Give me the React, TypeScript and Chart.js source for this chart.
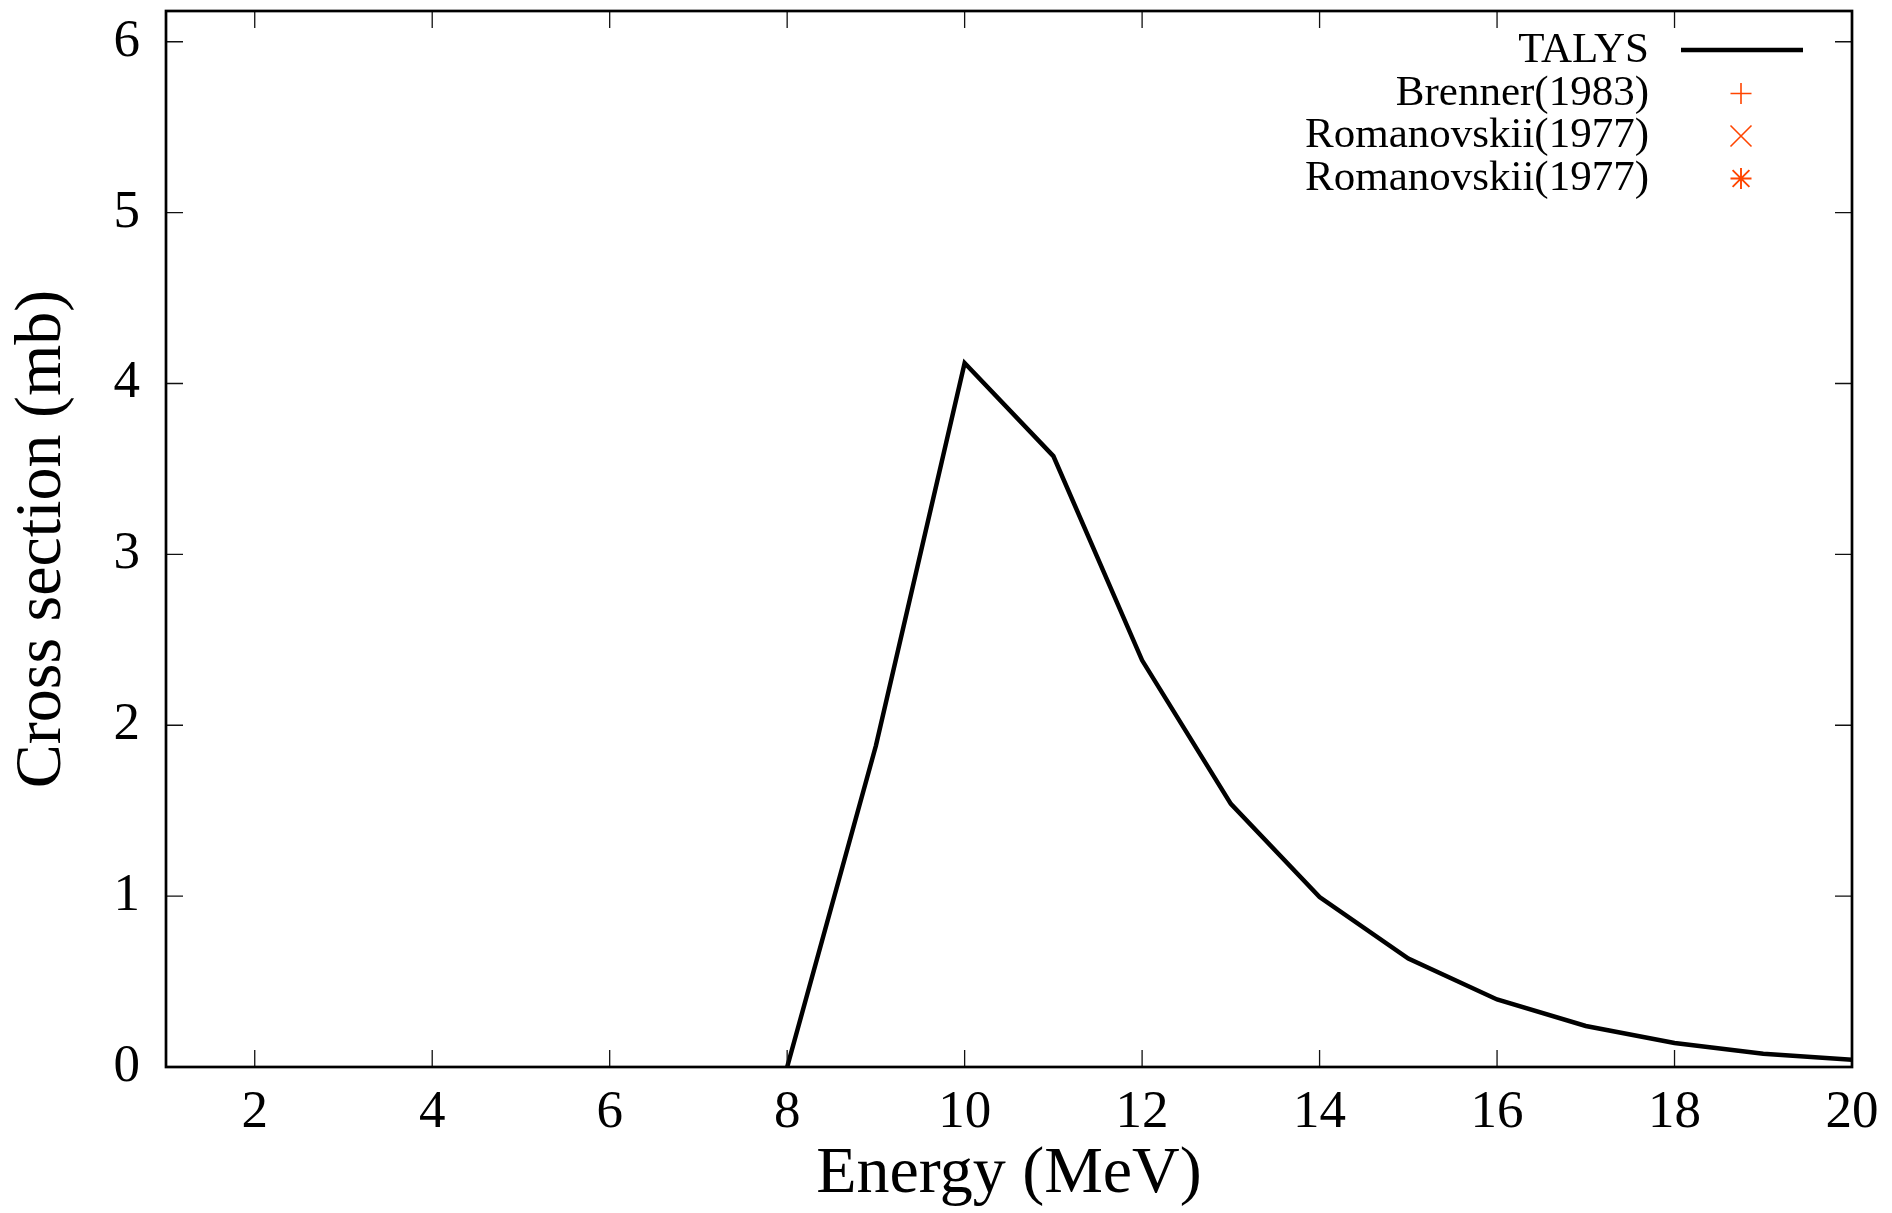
import React, { useEffect, useRef } from 'react';
import { Chart, registerables } from 'chart.js';

Chart.register(...registerables);

// ---- data ----
const energies = [8, 9, 10, 11, 12, 13, 14, 15, 16, 17, 18, 19, 20];
const talys = [0, 1.88, 4.12, 3.575, 2.38, 1.54, 0.995, 0.635, 0.395, 0.24, 0.14, 0.078, 0.042];
const brennerEnergies: number[] = [];
const brennerValues: number[] = [];
const romanovskiiAEnergies: number[] = [];
const romanovskiiAValues: number[] = [];
const romanovskiiBEnergies: number[] = [];
const romanovskiiBValues: number[] = [];

const xTicks = [2, 4, 6, 8, 10, 12, 14, 16, 18, 20];
const yTicks = [0, 1, 2, 3, 4, 5, 6];
const xRange = [1, 20];
const yRange = [0, 6.18];

const seriesLabels = ['TALYS', 'Brenner(1983)', 'Romanovskii(1977)', 'Romanovskii(1977)'];
const xTitle = 'Energy (MeV)';
const yTitle = 'Cross section (mb)';

const FONT = "'Liberation Serif', 'Times New Roman', serif";
const EXP_COLOR = '#ff4500';

const toPoints = (xs: number[], ys: number[]) => xs.map((x, i) => ({ x, y: ys[i] }));

function drawMarker(ctx: CanvasRenderingContext2D, style: string, x: number, y: number, r: number) {
  ctx.beginPath();
  if (style === 'cross' || style === 'star') {
    ctx.moveTo(x - r, y);
    ctx.lineTo(x + r, y);
    ctx.moveTo(x, y - r);
    ctx.lineTo(x, y + r);
  }
  if (style === 'crossRot' || style === 'star') {
    const d = style === 'star' ? r * 0.8 : r;
    ctx.moveTo(x - d, y - d);
    ctx.lineTo(x + d, y + d);
    ctx.moveTo(x - d, y + d);
    ctx.lineTo(x + d, y - d);
  }
  ctx.stroke();
}

const framePlugin = {
  id: 'gnuplotFrame',
  afterDraw(chart: any) {
    const ctx: CanvasRenderingContext2D = chart.ctx;
    const { left, right, top, bottom } = chart.chartArea;
    const xs = chart.scales.x;
    const ys = chart.scales.y;
    const tick = 17;
    ctx.save();
    // inward ticks
    ctx.strokeStyle = '#111';
    ctx.lineWidth = 1.3;
    ctx.beginPath();
    xs.ticks.forEach((t: any) => {
      const px = xs.getPixelForValue(t.value);
      ctx.moveTo(px, bottom);
      ctx.lineTo(px, bottom - tick);
      ctx.moveTo(px, top);
      ctx.lineTo(px, top + tick);
    });
    ys.ticks.forEach((t: any) => {
      const py = ys.getPixelForValue(t.value);
      ctx.moveTo(left, py);
      ctx.lineTo(left + tick, py);
      ctx.moveTo(right, py);
      ctx.lineTo(right - tick, py);
    });
    ctx.stroke();
    // border
    ctx.strokeStyle = '#000';
    ctx.lineWidth = 2.7;
    ctx.strokeRect(left, top, right - left, bottom - top);

    // legend
    const textRight = right - 203;
    const sampleStart = right - 171;
    const sampleEnd = right - 49;
    const markerX = right - 111;
    const rowY = [top + 40, top + 82.5, top + 125, top + 167.5];
    ctx.font = `43px ${FONT}`;
    ctx.textAlign = 'right';
    ctx.textBaseline = 'middle';
    chart.data.datasets.forEach((ds: any, i: number) => {
      const y = rowY[i];
      ctx.fillStyle = '#000';
      ctx.fillText(ds.label, textRight, y);
      if (ds.showLine !== false) {
        ctx.strokeStyle = ds.borderColor;
        ctx.lineWidth = ds.borderWidth;
        ctx.beginPath();
        ctx.moveTo(sampleStart, y - 1);
        ctx.lineTo(sampleEnd, y - 1);
        ctx.stroke();
      } else {
        ctx.strokeStyle = ds.borderColor;
        ctx.lineWidth = ds.pointStyle === 'star' ? 1.9 : 1.6;
        drawMarker(ctx, ds.pointStyle, markerX, y, 10.5);
      }
    });
    ctx.restore();
  },
};

export default function App() {
  const ref = useRef<HTMLCanvasElement | null>(null);

  useEffect(() => {
    if (!ref.current) return;
    const chart = new Chart(ref.current, {
      type: 'line',
      data: {
        datasets: [
          {
            label: seriesLabels[0],
            data: toPoints(energies, talys),
            borderColor: '#000',
            borderWidth: 4.5,
            pointRadius: 0,
            tension: 0,
            fill: false,
          },
          {
            label: seriesLabels[1],
            data: toPoints(brennerEnergies, brennerValues),
            showLine: false,
            pointStyle: 'cross',
            borderColor: EXP_COLOR,
            pointRadius: 10,
          },
          {
            label: seriesLabels[2],
            data: toPoints(romanovskiiAEnergies, romanovskiiAValues),
            showLine: false,
            pointStyle: 'crossRot',
            borderColor: EXP_COLOR,
            pointRadius: 10,
          },
          {
            label: seriesLabels[3],
            data: toPoints(romanovskiiBEnergies, romanovskiiBValues),
            showLine: false,
            pointStyle: 'star',
            borderColor: EXP_COLOR,
            pointRadius: 10,
          },
        ] as any,
      },
      options: {
        animation: false,
        responsive: false,
        devicePixelRatio: 1,
        layout: { padding: { left: 0, right: 40, top: 11, bottom: 0 } },
        plugins: { legend: { display: false }, tooltip: { enabled: false } },
        scales: {
          x: {
            type: 'linear',
            min: xRange[0],
            max: xRange[1],
            grid: { display: false, drawTicks: false },
            border: { display: false },
            ticks: {
              autoSkip: false,
              maxRotation: 0,
              padding: 14,
              color: '#000',
              font: { family: FONT, size: 53, lineHeight: 1.2 },
              callback: (v: any) => String(v),
            },
            title: {
              display: true,
              text: xTitle,
              color: '#000',
              font: { family: FONT, size: 66, lineHeight: 1.15 },
              padding: { top: 0, bottom: 0 },
            },
            afterBuildTicks: (scale: any) => {
              scale.ticks = xTicks.map((value) => ({ value }));
            },
            afterFit: (scale: any) => {
              scale.height = 146;
              scale.paddingLeft = 0;
              scale.paddingRight = 0;
            },
          },
          y: {
            type: 'linear',
            min: yRange[0],
            max: yRange[1],
            grid: { display: false, drawTicks: false },
            border: { display: false },
            ticks: {
              autoSkip: false,
              padding: 26,
              color: '#000',
              font: { family: FONT, size: 53, lineHeight: 1.2 },
              callback: (v: any) => String(v),
            },
            title: {
              display: true,
              text: yTitle,
              color: '#000',
              font: { family: FONT, size: 66, lineHeight: 1.15 },
              padding: { top: 5, bottom: 0 },
            },
            afterBuildTicks: (scale: any) => {
              scale.ticks = yTicks.map((value) => ({ value }));
            },
            afterFit: (scale: any) => {
              scale.width = 166;
              scale.paddingTop = 0;
              scale.paddingBottom = 0;
            },
          },
        },
      } as any,
      plugins: [framePlugin],
    });
    return () => chart.destroy();
  }, []);

  return (
    <div style={{ position: 'absolute', left: 0, top: 0, width: 1892, height: 1213, background: '#fff' }}>
      <canvas ref={ref} width={1892} height={1213} style={{ display: 'block', width: 1892, height: 1213 }} />
    </div>
  );
}
